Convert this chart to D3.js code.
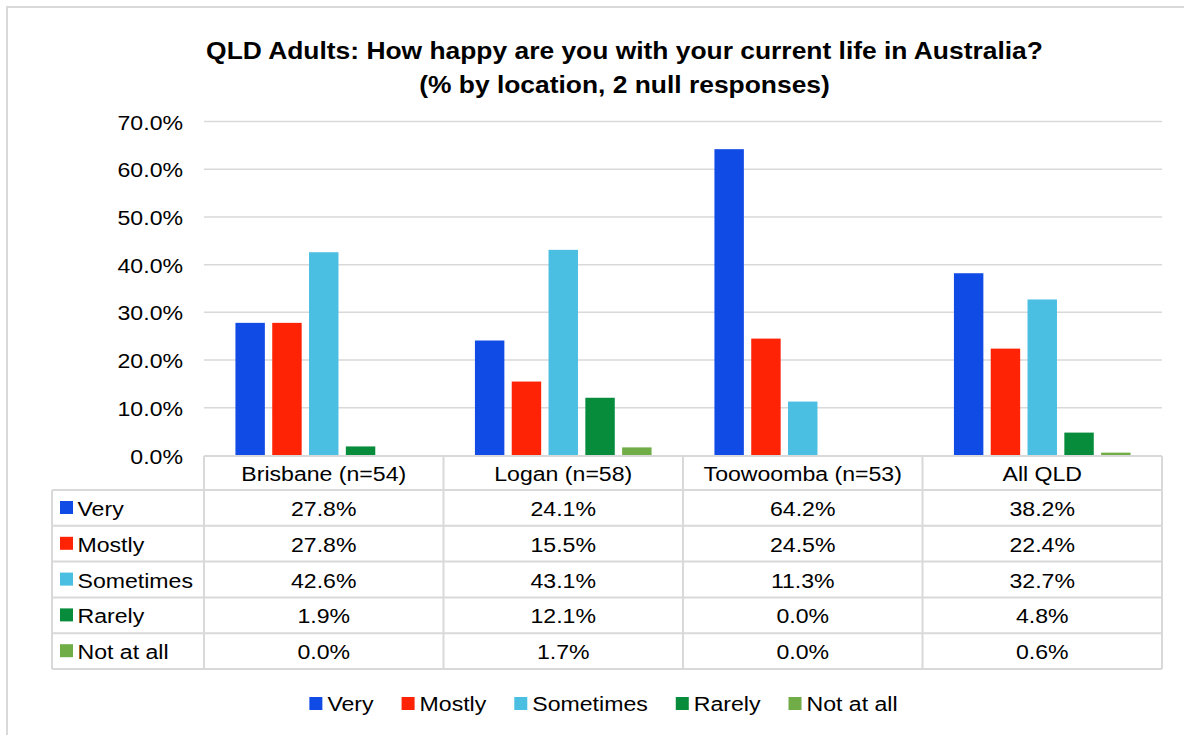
<!DOCTYPE html>
<html>
<head>
<meta charset="utf-8">
<script src="https://cdn.jsdelivr.net/npm/d3@7"></script>
<style>
  html, body { margin: 0; padding: 0; background: #fff; }
  svg { display: block; }
  text { font-family: "Liberation Sans", Arial, sans-serif; fill: #000; }
</style>
</head>
<body>
<svg id="chart" width="1184" height="735"></svg>
<script>
// ---- Data ----
const categories = ["Brisbane (n=54)", "Logan (n=58)", "Toowoomba (n=53)", "All QLD"];
const seriesNames = ["Very", "Mostly", "Sometimes", "Rarely", "Not at all"];
const veryValues = [27.8, 24.1, 64.2, 38.2];
const mostlyValues = [27.8, 15.5, 24.5, 22.4];
const sometimesValues = [42.6, 43.1, 11.3, 32.7];
const rarelyValues = [1.9, 12.1, 0.0, 4.8];
const notAtAllValues = [0.0, 1.7, 0.0, 0.6];
const seriesColors = ["#114BE6", "#FF2306", "#4ABFE2", "#068C3A", "#71AD47"];
const yTicks = [0, 10, 20, 30, 40, 50, 60, 70];
const titleLines = ["QLD Adults: How happy are you with your current life in Australia?", "(% by location, 2 null responses)"];

const seriesValues = [veryValues, mostlyValues, sometimesValues, rarelyValues, notAtAllValues];

// ---- Layout ----
const SX = 1.1; // horizontal text stretch seen in the reference
const FS = 21;
const plotLeft = 204, plotRight = 1162, plotTop = 121.5, plotBottom = 455.5;
const tableLeft = 52, headerTop = 456, headerBottom = 490, rowH = 35.8;
const gridColor = "#d9d9d9";

const svg = d3.select("#chart");

function txt(x, y, s, anchor, size, weight) {
  return svg.append("text")
    .attr("transform", `translate(${x},${y}) scale(${SX},1)`)
    .attr("text-anchor", anchor || "start")
    .style("font-size", (size || FS) + "px")
    .style("font-weight", weight || "normal")
    .text(s);
}

// outer border (left & top visible)
svg.append("rect").attr("x", 7).attr("y", 7).attr("width", 1200).attr("height", 760)
  .attr("fill", "none").attr("stroke", gridColor).attr("stroke-width", 2);

// title
titleLines.forEach((t, i) => txt(624.5, 59 + i * 34, t, "middle", 24, "bold"));

// scales
const x0 = d3.scaleBand().domain(categories).range([plotLeft, plotRight]).padding(0);
const x1 = d3.scaleBand().domain(seriesNames).range([0, x0.bandwidth()])
  .paddingInner(0.2).paddingOuter(0.854);
const y = d3.scaleLinear().domain([0, 70]).range([plotBottom, plotTop]);

// gridlines
svg.append("g").selectAll("line").data(yTicks.filter(d => d > 0)).join("line")
  .attr("x1", plotLeft).attr("x2", plotRight)
  .attr("y1", d => y(d)).attr("y2", d => y(d))
  .attr("stroke", gridColor).attr("stroke-width", 1.5);

// y tick labels
yTicks.forEach(d => txt(183, y(d) + 8, d.toFixed(1) + "%", "end", FS));

// bars
seriesNames.forEach((name, si) => {
  svg.append("g").selectAll("rect").data(categories).join("rect")
    .attr("x", c => x0(c) + x1(name))
    .attr("width", x1.bandwidth())
    .attr("y", (c, ci) => y(seriesValues[si][ci]))
    .attr("height", (c, ci) => y(0) - y(seriesValues[si][ci]))
    .attr("fill", seriesColors[si]);
});

// ---- Data table ----
const tbl = svg.append("g").attr("stroke", gridColor).attr("stroke-width", 2).attr("fill", "none");
const tableBottom = headerBottom + rowH * seriesNames.length;
tbl.append("line").attr("x1", plotLeft).attr("x2", plotRight).attr("y1", headerTop).attr("y2", headerTop);
for (let r = 0; r <= seriesNames.length; r++) {
  const yy = headerBottom + r * rowH;
  tbl.append("line").attr("x1", tableLeft).attr("x2", plotRight).attr("y1", yy).attr("y2", yy);
}
tbl.append("line").attr("x1", tableLeft).attr("x2", tableLeft).attr("y1", headerBottom).attr("y2", tableBottom);
categories.forEach(c => {
  tbl.append("line").attr("x1", x0(c)).attr("x2", x0(c)).attr("y1", headerTop).attr("y2", tableBottom);
});
tbl.append("line").attr("x1", plotRight).attr("x2", plotRight).attr("y1", headerTop).attr("y2", tableBottom);

// header text
categories.forEach(c => txt(x0(c) + x0.bandwidth() / 2, headerTop + 25, c, "middle", FS));

// rows
seriesNames.forEach((name, si) => {
  const top = headerBottom + si * rowH;
  svg.append("rect").attr("x", 60).attr("y", top + 11).attr("width", 13).attr("height", 13)
    .attr("fill", seriesColors[si]);
  txt(77.5, top + 26, name, "start", FS);
  categories.forEach((c, ci) => {
    txt(x0(c) + x0.bandwidth() / 2, top + 26, seriesValues[si][ci].toFixed(1) + "%", "middle", FS);
  });
});

// ---- Legend ----
const leg = svg.append("g");
let lx = 0;
const legGap = 28;
seriesNames.forEach((name, si) => {
  leg.append("rect").attr("x", lx).attr("y", 697).attr("width", 13).attr("height", 13)
    .attr("fill", seriesColors[si]);
  const t = leg.append("text")
    .attr("transform", `translate(${lx + 18},711) scale(${SX},1)`)
    .style("font-size", FS + "px").text(name);
  const w = t.node().getComputedTextLength() * SX;
  lx += 18 + w + legGap;
});
const legW = lx - legGap;
leg.attr("transform", `translate(${603.5 - legW / 2},0)`);
</script>
</body>
</html>
